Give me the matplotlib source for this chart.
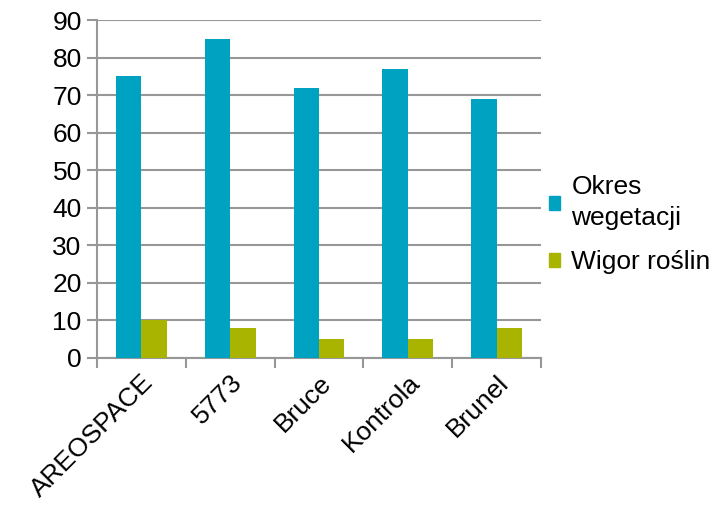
import numpy as np
import matplotlib.pyplot as plt
from matplotlib.patches import Patch

categories = ['AREOSPACE', '5773', 'Bruce', 'Kontrola', 'Brunel']
okres_wegetacji = [75, 85, 72, 77, 69]
wigor_roslin = [10, 8, 5, 5, 8]
series_names = ['Okres\nwegetacji', 'Wigor roślin']
colors = ['#00A2C2', '#A8B400']

plt.rcParams['font.family'] = ['Liberation Sans', 'DejaVu Sans']

fig = plt.figure(figsize=(7.17, 5.08), dpi=100)
ax = fig.add_axes([0.1353, 0.2953, 0.6192, 0.6653])

x = np.arange(len(categories))
w = 0.285
ax.bar(x - w / 2, okres_wegetacji, width=w, color=colors[0], zorder=3)
ax.bar(x + w / 2, wigor_roslin, width=w, color=colors[1], zorder=3)

ax.set_xlim(-0.5, len(categories) - 0.5)
ax.set_ylim(0, 90)
ax.set_yticks(range(0, 91, 10))
ax.yaxis.grid(True, color='#979797', linewidth=1.5, zorder=0)
ax.tick_params(axis='y', labelsize=19, length=7, width=1.5, color='#979797', pad=4)

ax.set_xticks(x)
ax.set_xticklabels(categories, rotation=45, ha='right', rotation_mode='anchor', fontsize=19)
ax.tick_params(axis='x', length=0, pad=9)
ax.set_xticks(np.arange(-0.5, len(categories)), minor=True)
ax.tick_params(axis='x', which='minor', length=7, width=1.5, color='#979797')

for s in ['top', 'right']:
    ax.spines[s].set_visible(False)
for s in ['left', 'bottom']:
    ax.spines[s].set_color('#979797')
    ax.spines[s].set_linewidth(1.5)

handles = [Patch(color=c) for c in colors]
leg = fig.legend(handles, series_names, loc='center left', bbox_to_anchor=(0.766, 0.558),
                 frameon=False, fontsize=19, handlelength=0.42, handleheight=0.42,
                 handletextpad=0.42, labelspacing=0.75, borderpad=0, borderaxespad=0)
for t in leg.get_texts():
    t.set_linespacing(1.4)

fig.savefig('out.png', dpi=100)
